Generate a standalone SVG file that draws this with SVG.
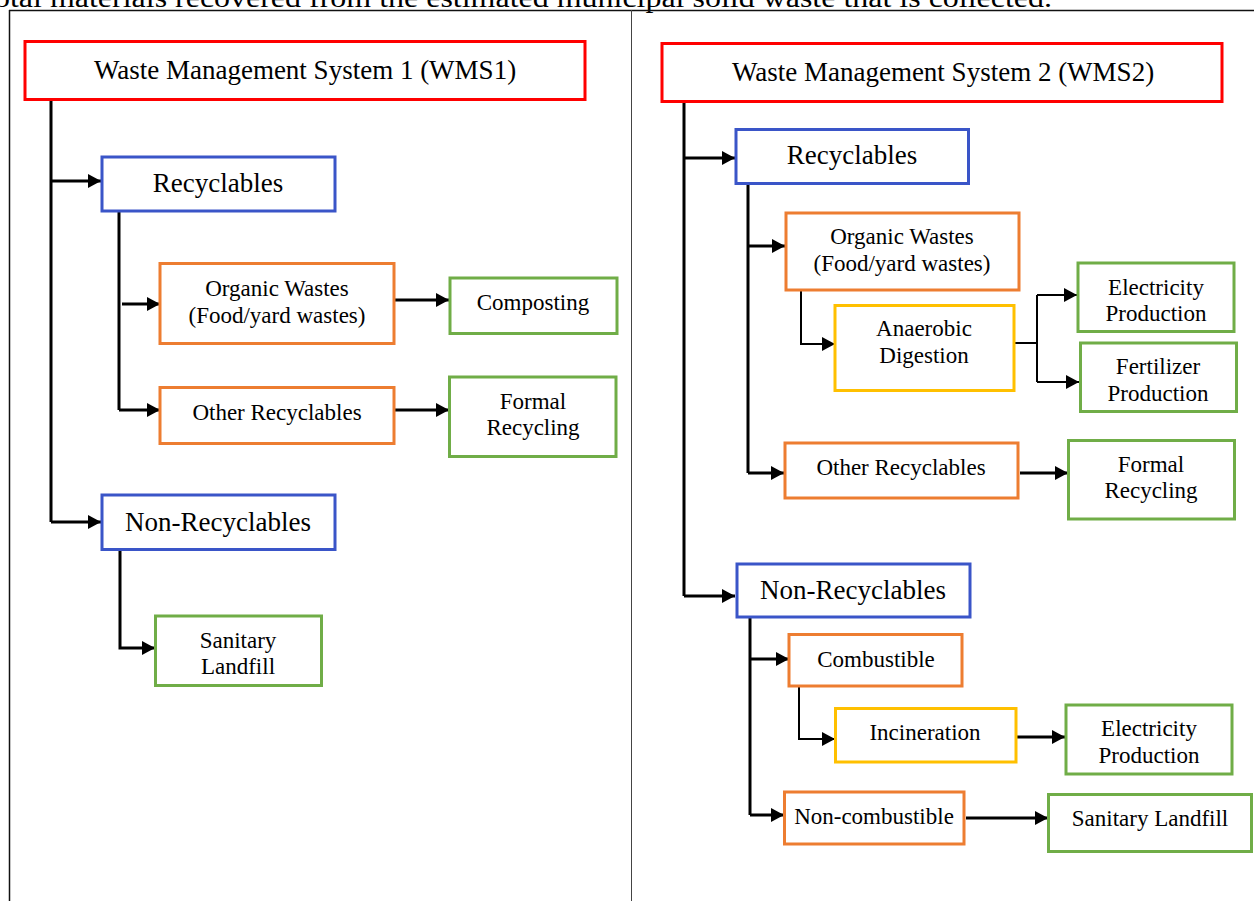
<svg xmlns="http://www.w3.org/2000/svg" width="1254" height="901" viewBox="0 0 1254 901">
<defs>
<marker id="ah" markerUnits="userSpaceOnUse" markerWidth="14" markerHeight="14" refX="13" refY="7" orient="auto">
<path d="M0,0 L13,7 L0,14 z" fill="#000"/>
</marker>
<style>
.box{fill:#fff;stroke-width:3}
.red{stroke:#FF0000}
.blue{stroke:#3A55C8}
.orange{stroke:#ED7D31}
.yellow{stroke:#FFC000}
.green{stroke:#70AD47}
.t{font-family:"Liberation Serif","Times New Roman",serif;fill:#000;text-anchor:middle}
.big{font-size:27px}
.sm{font-size:23px}
.c{fill:none;stroke:#000;stroke-width:3}
.thin{stroke-width:2}
.a{marker-end:url(#ah)}
</style>
</defs>
<rect width="1254" height="901" fill="#fff"/>
<text x="-6" y="7" font-family="Liberation Serif, serif" font-size="27" textLength="1058" lengthAdjust="spacingAndGlyphs">otal materials recovered from the estimated municipal solid waste that is collected.</text>
<g id="frame" fill="none">
<line x1="9" y1="10.5" x2="1254" y2="10.5" stroke="#111" stroke-width="1.5"/>
<line x1="9.5" y1="10" x2="9.5" y2="901" stroke="#111" stroke-width="1.5"/>
<line x1="631.5" y1="10" x2="631.5" y2="901" stroke="#444" stroke-width="1"/>
</g>
<g id="connectors">
<polyline class="c" points="51,99 51,522"/>
<line class="c a" x1="51" y1="181" x2="101" y2="181"/>
<polyline class="c a" points="51,522 101,522"/>
<polyline class="c" points="119,211 119,410"/>
<line class="c a" x1="122" y1="304" x2="160" y2="304"/>
<polyline class="c a" points="119,410 160,410"/>
<line class="c a" x1="394" y1="300" x2="449" y2="300"/>
<line class="c a" x1="394" y1="410" x2="449" y2="410"/>
<polyline class="c a" points="120,549 120,648 155,648"/>
<polyline class="c" points="684,101 684,596"/>
<line class="c a" x1="684" y1="158" x2="735" y2="158"/>
<polyline class="c a" points="684,596 735,596"/>
<polyline class="c" points="748,183 748,473"/>
<line class="c a" x1="748" y1="246" x2="785" y2="246"/>
<polyline class="c a" points="748,473 784,473"/>
<polyline class="c thin a" points="801,290 801,344 835,344"/>
<polyline class="c thin" points="1014,343 1037,343"/>
<polyline class="c thin a" points="1037,295 1037,295 1077,295"/>
<polyline class="c thin" points="1037,295 1037,382"/>
<polyline class="c thin a" points="1037,382 1079,382"/>
<line class="c a" x1="1020" y1="473" x2="1068" y2="473"/>
<polyline class="c" points="750,617 750,815"/>
<line class="c a" x1="750" y1="659" x2="789" y2="659"/>
<polyline class="c a" points="750,815 784,815"/>
<polyline class="c thin a" points="799,686 799,739 835,739"/>
<line class="c a" x1="1016" y1="737" x2="1065" y2="737"/>
<line class="c a" x1="966" y1="818" x2="1048" y2="818"/>
</g>
<g id="wms1">
<rect class="box red" x="25" y="41.5" width="560" height="58"/>
<text class="t big" x="305" y="79">Waste Management System 1 (WMS1)</text>
</g>
<g id="rec1">
<rect class="box blue" x="102" y="157" width="233" height="54"/>
<text class="t big" x="218" y="192">Recyclables</text>
</g>
<g id="org1">
<rect class="box orange" x="160" y="263.5" width="234" height="80"/>
<text class="t sm" x="277" y="296">Organic Wastes</text>
<text class="t sm" x="277" y="323">(Food/yard wastes)</text>
</g>
<g id="comp1">
<rect class="box green" x="450" y="278" width="167" height="55.5"/>
<text class="t sm" x="533" y="310">Composting</text>
</g>
<g id="oth1">
<rect class="box orange" x="160" y="387.5" width="234" height="56"/>
<text class="t sm" x="277" y="420">Other Recyclables</text>
</g>
<g id="form1">
<rect class="box green" x="449.5" y="377" width="166.5" height="79.5"/>
<text class="t sm" x="533" y="409">Formal</text>
<text class="t sm" x="533" y="435">Recycling</text>
</g>
<g id="nonrec1">
<rect class="box blue" x="102" y="495" width="233" height="54.5"/>
<text class="t big" x="218" y="531">Non-Recyclables</text>
</g>
<g id="land1">
<rect class="box green" x="155.5" y="616" width="166" height="69.5"/>
<text class="t sm" x="238" y="648">Sanitary</text>
<text class="t sm" x="238" y="674">Landfill</text>
</g>
<g id="wms2">
<rect class="box red" x="662" y="43.5" width="560" height="58"/>
<text class="t big" x="943" y="81">Waste Management System 2 (WMS2)</text>
</g>
<g id="rec2">
<rect class="box blue" x="736" y="129.5" width="232.5" height="54"/>
<text class="t big" x="852" y="164">Recyclables</text>
</g>
<g id="org2">
<rect class="box orange" x="786" y="213" width="233" height="77"/>
<text class="t sm" x="902" y="244">Organic Wastes</text>
<text class="t sm" x="902" y="271">(Food/yard wastes)</text>
</g>
<g id="ad2">
<rect class="box yellow" x="835" y="305.5" width="179" height="85"/>
<text class="t sm" x="924" y="336">Anaerobic</text>
<text class="t sm" x="924" y="363">Digestion</text>
</g>
<g id="elec2a">
<rect class="box green" x="1078" y="263" width="156" height="68.5"/>
<text class="t sm" x="1156" y="295">Electricity</text>
<text class="t sm" x="1156" y="321">Production</text>
</g>
<g id="fert2">
<rect class="box green" x="1080.5" y="343" width="156" height="68.5"/>
<text class="t sm" x="1158" y="374">Fertilizer</text>
<text class="t sm" x="1158" y="401">Production</text>
</g>
<g id="oth2">
<rect class="box orange" x="785" y="443" width="233" height="55"/>
<text class="t sm" x="901" y="475">Other Recyclables</text>
</g>
<g id="form2">
<rect class="box green" x="1068.5" y="440.5" width="166" height="78.5"/>
<text class="t sm" x="1151" y="472">Formal</text>
<text class="t sm" x="1151" y="498">Recycling</text>
</g>
<g id="nonrec2">
<rect class="box blue" x="737" y="564" width="233" height="53"/>
<text class="t big" x="853" y="599">Non-Recyclables</text>
</g>
<g id="comb2">
<rect class="box orange" x="789" y="634.5" width="173" height="51.5"/>
<text class="t sm" x="876" y="667">Combustible</text>
</g>
<g id="inc2">
<rect class="box yellow" x="835.5" y="708.5" width="180.5" height="53.5"/>
<text class="t sm" x="925" y="740">Incineration</text>
</g>
<g id="elec2b">
<rect class="box green" x="1066" y="705" width="166" height="69"/>
<text class="t sm" x="1149" y="736">Electricity</text>
<text class="t sm" x="1149" y="763">Production</text>
</g>
<g id="noncomb2">
<rect class="box orange" x="784.5" y="792" width="179.5" height="52"/>
<text class="t sm" x="874" y="824">Non-combustible</text>
</g>
<g id="land2">
<rect class="box green" x="1048.5" y="794.5" width="203" height="57"/>
<text class="t sm" x="1150" y="826">Sanitary Landfill</text>
</g>
</svg>
